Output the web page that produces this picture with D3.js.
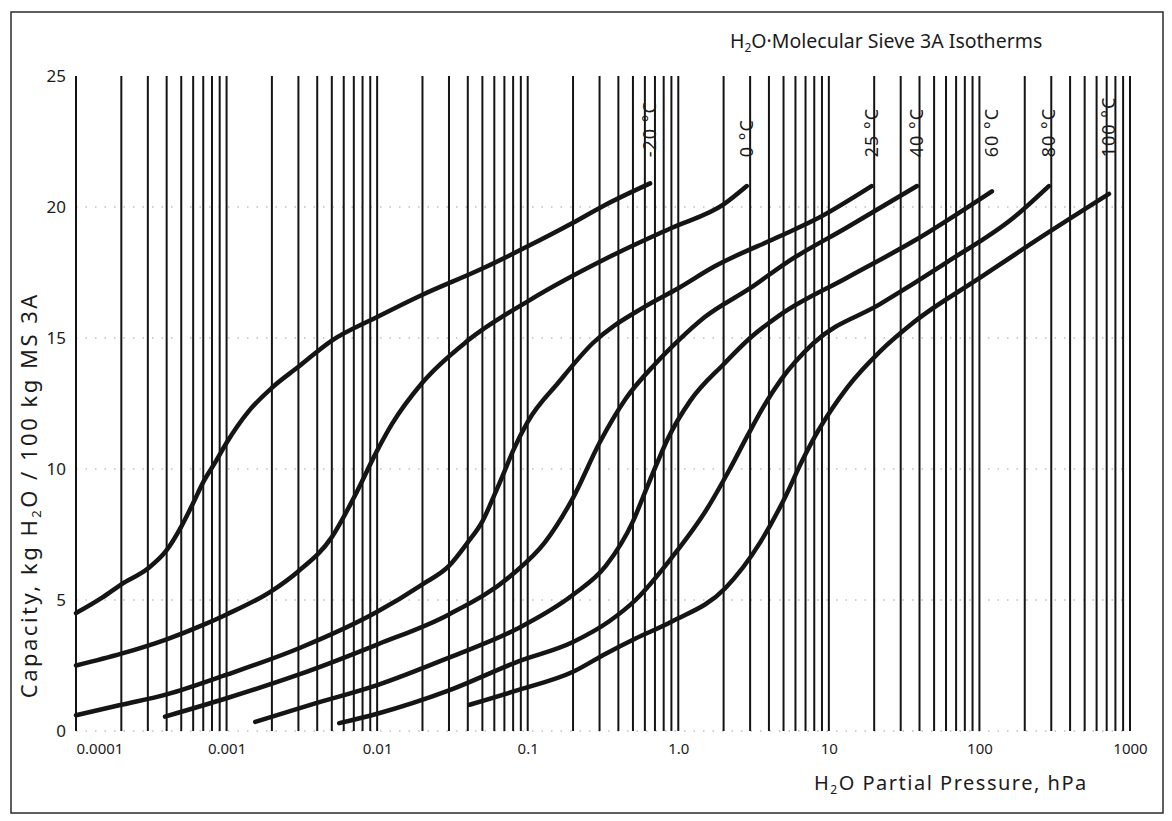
<!DOCTYPE html>
<html>
<head>
<meta charset="utf-8">
<script src="https://cdn.jsdelivr.net/npm/d3@7"></script>
<style>
  body { margin: 0; background: #fff; }
  svg { display: block; }
  text { font-family: "Noto Sans", sans-serif; fill: #1b1b1b; }
</style>
</head>
<body>
<svg id="chart" width="1172" height="821"></svg>
<script>
// isotherm labels (one per series, same order as seriesList below)
const tempLabels = ["-20 °C", "0 °C", "25 °C", "40 °C", "60 °C", "80 °C", "100 °C"];

// pressure in hPa / capacity in kg H2O per 100 kg MS 3A
const pM20 = [0.0001, 0.00015, 0.0002, 0.0003, 0.0004, 0.0005, 0.0006, 0.0007, 0.00085, 0.001, 0.0014, 0.002, 0.003, 0.005, 0.01, 0.02, 0.05, 0.1, 0.2, 0.32, 0.65];
const cM20 = [4.5, 5.1, 5.6, 6.2, 6.9, 7.8, 8.7, 9.5, 10.3, 11.0, 12.2, 13.1, 13.9, 14.9, 15.8, 16.65, 17.65, 18.5, 19.4, 20.05, 20.9];

const p0 = [0.0001, 0.0002, 0.0004, 0.0007, 0.001, 0.002, 0.003, 0.005, 0.007, 0.01, 0.0125, 0.02, 0.04, 0.1, 0.35, 0.9, 2.0, 2.85];
const c0 = [2.5, 2.95, 3.5, 4.05, 4.45, 5.35, 6.1, 7.4, 8.9, 10.7, 11.7, 13.3, 14.9, 16.4, 18.1, 19.2, 20.1, 20.8];

const p25 = [0.0001, 0.0002, 0.0004, 0.001, 0.003, 0.01, 0.02, 0.03, 0.04, 0.05, 0.06, 0.07, 0.08, 0.1, 0.16, 0.27, 0.6, 1.0, 1.7, 4.8, 8.0, 19.2];
const c25 = [0.6, 1.0, 1.4, 2.15, 3.15, 4.55, 5.6, 6.3, 7.2, 8.0, 9.0, 9.9, 10.7, 11.8, 13.3, 14.8, 16.2, 16.9, 17.7, 18.9, 19.5, 20.8];

const p40 = [0.00039, 0.001, 0.003, 0.01, 0.03, 0.08, 0.13, 0.2, 0.3, 0.45, 0.7, 1.0, 1.5, 3.0, 5.3, 13, 38.5];
const c40 = [0.55, 1.25, 2.15, 3.3, 4.45, 6.0, 7.2, 8.9, 11.0, 12.7, 14.0, 14.9, 15.8, 16.9, 17.9, 19.2, 20.8];

const p60 = [0.00155, 0.0036, 0.01, 0.03, 0.085, 0.2, 0.33, 0.5, 0.6, 0.72, 0.86, 1.2, 2.0, 3.0, 4.8, 13.2, 36.6, 121];
const c60 = [0.35, 1.0, 1.75, 2.8, 3.9, 5.2, 6.3, 8.0, 9.1, 10.2, 11.2, 12.6, 14.0, 15.0, 15.9, 17.3, 18.7, 20.6];

const p80 = [0.0056, 0.01, 0.03, 0.086, 0.2, 0.35, 0.52, 0.9, 1.56, 2.2, 2.9, 3.7, 4.8, 7.9, 22, 61, 169, 289];
const c80 = [0.3, 0.66, 1.55, 2.65, 3.4, 4.2, 5.0, 6.6, 8.5, 10.0, 11.3, 12.4, 13.4, 14.8, 16.3, 17.9, 19.6, 20.8];

const p100 = [0.041, 0.086, 0.2, 0.33, 0.52, 0.9, 2.05, 3.5, 5.2, 6.5, 8.0, 10.5, 13.2, 22, 36.6, 101, 282, 725];
const c100 = [1.0, 1.56, 2.26, 2.95, 3.53, 4.17, 5.45, 7.2, 9.0, 10.2, 11.2, 12.3, 13.1, 14.5, 15.6, 17.3, 19.0, 20.5];

// axis ticks
const xTicks = [0.0001, 0.001, 0.01, 0.1, 1, 10, 100, 1000];
const xTickLabels = ["0.0001", "0.001", "0.01", "0.1", "1.0", "10", "100", "1000"];
const yTicks = [0, 5, 10, 15, 20, 25];
const dottedLevels = [0, 5, 10, 15, 20];

const seriesList = [
  [pM20, cM20], [p0, c0], [p25, c25], [p40, c40], [p60, c60], [p80, c80], [p100, c100]
];

const svg = d3.select("#chart");

// frame round the whole figure
svg.append("rect")
  .attr("x", 11).attr("y", 12)
  .attr("width", 1152).attr("height", 801)
  .attr("fill", "none")
  .attr("stroke", "#2a2a2a")
  .attr("stroke-width", 1.5);

const x = d3.scaleLog().domain([0.0001, 1000]).range([76, 1130]);
const y = d3.scaleLinear().domain([0, 25]).range([731, 76]);

// dotted horizontal guide lines
svg.append("g")
  .selectAll("line")
  .data(dottedLevels)
  .enter().append("line")
    .attr("x1", x(0.0001)).attr("x2", x(1000))
    .attr("y1", d => y(d)).attr("y2", d => y(d))
    .attr("stroke", "#a0a0a0")
    .attr("stroke-width", 1.2)
    .attr("stroke-dasharray", "1.5 8");

// vertical log grid: 1..9 per decade
let gridValues = [];
for (let e = -4; e < 3; e++) {
  for (let k = 1; k < 10; k++) gridValues.push(k * Math.pow(10, e));
}
gridValues.push(1000);

svg.append("g")
  .selectAll("line")
  .data(gridValues)
  .enter().append("line")
    .attr("x1", d => x(d)).attr("x2", d => x(d))
    .attr("y1", y(25)).attr("y2", y(0))
    .attr("stroke", "#141414")
    .attr("stroke-width", 2);

// axes (labels only)
const xAxis = svg.append("g")
  .attr("transform", "translate(0," + y(0) + ")")
  .call(d3.axisBottom(x).tickValues(xTicks).tickFormat((d, i) => xTickLabels[i]).tickSize(0).tickPadding(12));
xAxis.select(".domain").remove();
xAxis.selectAll("text")
  .attr("font-size", 15)
  .attr("font-family", "Noto Sans, sans-serif")
  .attr("fill", "#1b1b1b")
  .style("text-anchor", (d, i) => i === 0 ? "start" : "middle");

const yAxis = svg.append("g")
  .attr("transform", "translate(" + x(0.0001) + ",0)")
  .call(d3.axisLeft(y).tickValues(yTicks).tickSize(0).tickPadding(10));
yAxis.select(".domain").remove();
yAxis.selectAll("text")
  .attr("font-size", 17)
  .attr("font-family", "Noto Sans, sans-serif")
  .attr("fill", "#1b1b1b");

// isotherms
const line = d3.line()
  .x(d => x(d[0]))
  .y(d => y(d[1]))
  .curve(d3.curveMonotoneX);

svg.append("g")
  .selectAll("path")
  .data(seriesList)
  .enter().append("path")
    .attr("fill", "none")
    .attr("stroke", "#151515")
    .attr("stroke-width", 4.5)
    .attr("stroke-linecap", "round")
    .attr("d", s => line(d3.zip(s[0], s[1])));

// rotated temperature labels above each curve end
svg.append("g")
  .selectAll("text")
  .data(seriesList)
  .enter().append("text")
    .attr("transform", s => "translate(" + (x(s[0][s[0].length - 1]) + 6) + "," + y(21.9) + ") rotate(-90)")
    .attr("font-size", 18)
    .attr("letter-spacing", 1)
    .text((s, i) => tempLabels[i]);

// title
const title = svg.append("text")
  .attr("x", 730).attr("y", 48)
  .attr("font-size", 19.5);
title.append("tspan").text("H");
title.append("tspan").attr("font-size", 12).attr("dy", 4).text("2");
title.append("tspan").attr("dy", -4).text("O·Molecular Sieve 3A Isotherms");

// x axis title, kept clear of the tick labels
const xTitle = svg.append("text")
  .attr("x", 814).attr("y", 790)
  .attr("font-size", 20)
  .attr("letter-spacing", 1.5);
xTitle.append("tspan").text("H");
xTitle.append("tspan").attr("font-size", 12).attr("dy", 4).text("2");
xTitle.append("tspan").attr("dy", -4).text("O Partial Pressure, hPa");

// y axis title
const yTitle = svg.append("text")
  .attr("transform", "translate(37," + y(9) + ") rotate(-90)")
  .attr("text-anchor", "middle")
  .attr("font-size", 22)
  .attr("letter-spacing", 2.5);
yTitle.append("tspan").text("Capacity, kg H");
yTitle.append("tspan").attr("font-size", 13).attr("dy", 4).text("2");
yTitle.append("tspan").attr("dy", -4).text("O / 100 kg MS 3A");
</script>
</body>
</html>
